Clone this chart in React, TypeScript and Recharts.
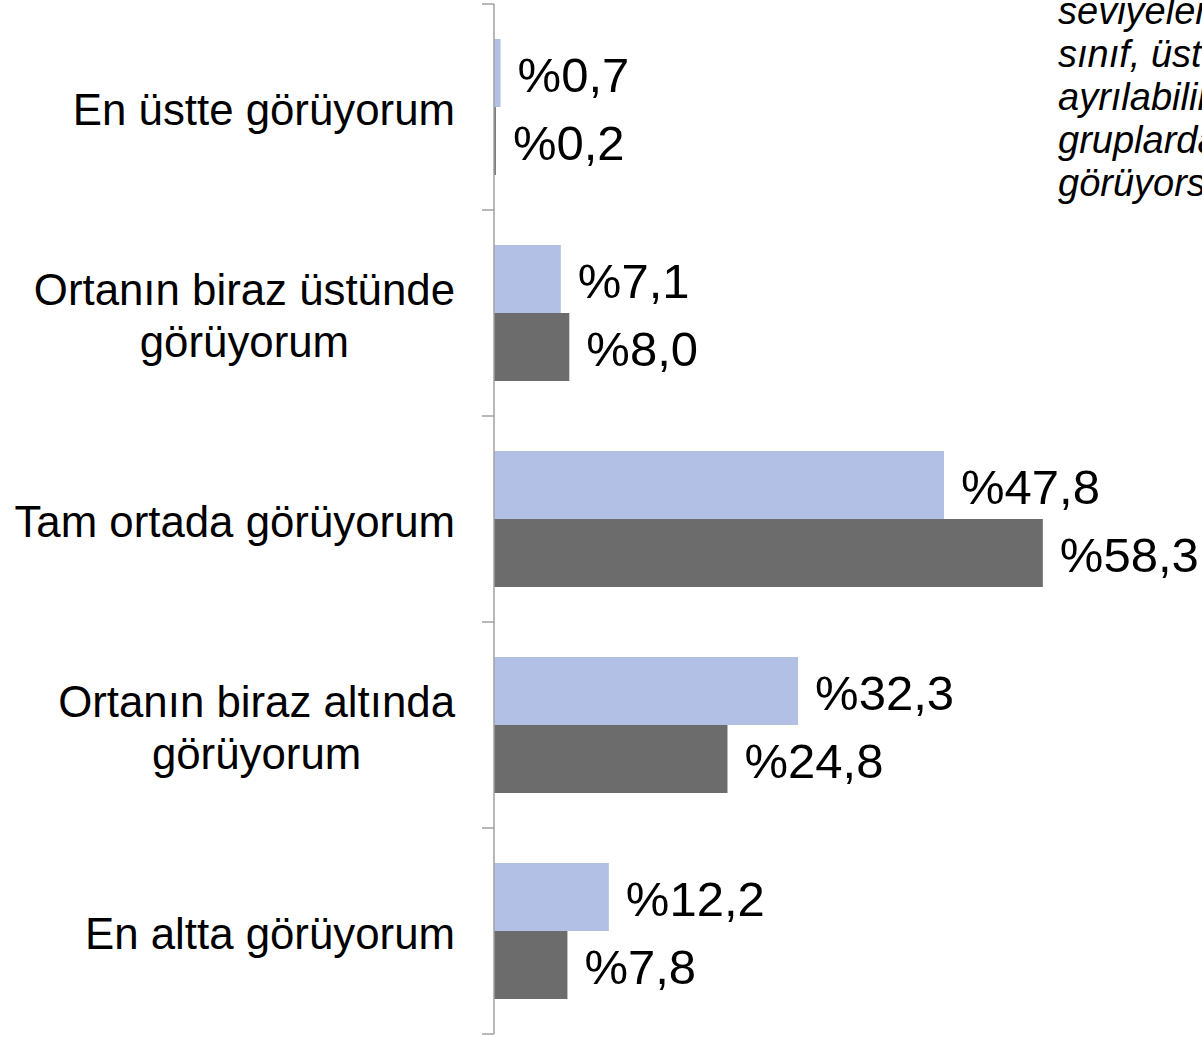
import React from 'react'
import { BarChart, Bar, XAxis, YAxis, LabelList } from 'recharts'

// answer categories (line break = wrapped tick label)
const categories = [
    'En üstte görüyorum',
    'Ortanın biraz üstünde\ngörüyorum',
    'Tam ortada görüyorum',
    'Ortanın biraz altında\ngörüyorum',
    'En altta görüyorum',
]
const seriesLight = [0.7, 7.1, 47.8, 32.3, 12.2]
const seriesDark = [0.2, 8.0, 58.3, 24.8, 7.8]

// question text peeking in from the right edge (clipped in the original)
const noteLines = ['seviyeler', 'sınıf, üst', 'ayrılabilir', 'gruplarda', 'görüyors']

const W = 1202
const H = 1037
const MARGIN = { top: 4, right: 49, bottom: 3, left: 0 }
const AXIS_W = 494
const TICK_LEN = 12
const TICK_GAP = 27
const FONT = '"Liberation Sans", Arial, sans-serif'
const LABEL_SIZE = 43.8

const fmt = (v: number) => '%' + v.toFixed(1).replace('.', ',')

let ctx: CanvasRenderingContext2D | null = null
function textWidth(s: string) {
    if (!ctx) ctx = document.createElement('canvas').getContext('2d')
    if (!ctx) return s.length * LABEL_SIZE * 0.5
    ctx.font = `${LABEL_SIZE}px "Liberation Sans"`
    return ctx.measureText(s).width
}

function CategoryTick(props: any) {
    const { x, y, payload, index } = props
    const lines: string[] = String(payload.value).split('\n')
    const band = (H - MARGIN.top - MARGIN.bottom) / categories.length
    const axisX = x + TICK_LEN + TICK_GAP
    const lineH = 52
    const w0 = textWidth(lines[0])
    const firstBase = y + 18 - ((lines.length - 1) * lineH) / 2
    return (
        <g>
            <line x1={axisX - TICK_LEN} x2={axisX} y1={y - band / 2} y2={y - band / 2} stroke="#a0a0a0" strokeWidth={1.5} />
            {index === categories.length - 1 && (
                <line x1={axisX - TICK_LEN} x2={axisX} y1={y + band / 2} y2={y + band / 2} stroke="#a0a0a0" strokeWidth={1.5} />
            )}
            {lines.map((ln, i) => (
                <text
                    key={i}
                    x={i === 0 ? x : x - w0 / 2}
                    y={firstBase + i * lineH}
                    textAnchor={i === 0 ? 'end' : 'middle'}
                    fontSize={LABEL_SIZE}
                    fontFamily={FONT}
                    fill="#000"
                >
                    {ln}
                </text>
            ))}
        </g>
    )
}

const labelStyle = { fontSize: 49, fontFamily: FONT, fill: '#000' }

export default function App() {
    const data = categories.map((c, i) => ({
        category: c,
        light: seriesLight[i],
        dark: seriesDark[i],
    }))

    return (
        <div style={{ position: 'absolute', left: 0, top: 0, width: W, height: H, overflow: 'hidden', background: '#fff' }}>
            <BarChart
                width={W}
                height={H}
                data={data}
                layout="vertical"
                margin={MARGIN}
                barCategoryGap={35}
                barGap={0}
            >
                <XAxis type="number" domain={[0, 70]} hide />
                <YAxis
                    type="category"
                    dataKey="category"
                    width={AXIS_W}
                    axisLine={{ stroke: '#a0a0a0', strokeWidth: 1.5 }}
                    tickLine={false}
                    tickSize={TICK_LEN}
                    tickMargin={TICK_GAP}
                    tick={<CategoryTick />}
                    interval={0}
                />
                <Bar dataKey="light" fill="#b1c0e4" isAnimationActive={false}>
                    <LabelList dataKey="light" position="right" offset={17} dy={2} formatter={(v: any) => fmt(Number(v))}
                        style={labelStyle} />
                </Bar>
                <Bar dataKey="dark" fill="#6c6c6c" isAnimationActive={false}>
                    <LabelList dataKey="dark" position="right" offset={17} dy={2} formatter={(v: any) => fmt(Number(v))}
                        style={labelStyle} />
                </Bar>
            </BarChart>
            <div
                style={{
                    position: 'absolute',
                    left: 1058,
                    top: -10,
                    fontFamily: FONT,
                    fontStyle: 'italic',
                    fontSize: 38,
                    lineHeight: '43px',
                    whiteSpace: 'nowrap',
                    color: '#000',
                }}
            >
                {noteLines.map((l, i) => (
                    <div key={i}>{l}</div>
                ))}
            </div>
        </div>
    )
}
